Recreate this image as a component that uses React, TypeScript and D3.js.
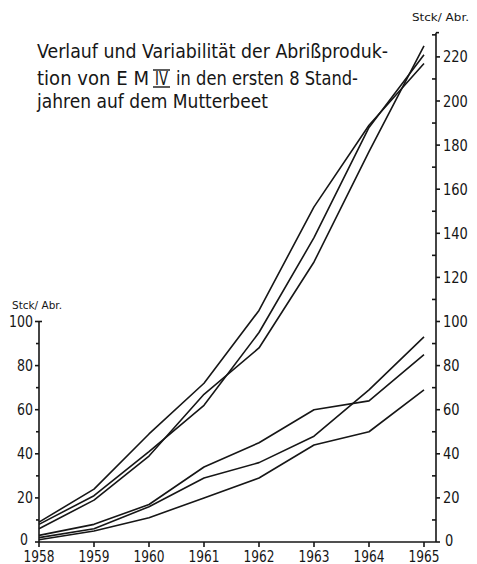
import React from 'react';
import * as d3 from 'd3';

// years on the x axis
const years = [1958, 1959, 1960, 1961, 1962, 1963, 1964, 1965];

// upper group (Stck/Abr.)
const upper1 = [9, 24, 49, 72, 105, 152, 189, 217];
const upper2 = [8, 21, 41, 62, 95, 138, 188, 221];
const upper3 = [6, 19, 39, 67, 88, 127, 177, 225];

// lower group
const lower1 = [3, 8, 17, 34, 45, 60, 64, 85];
const lower2 = [2, 6, 16, 29, 36, 48, 69, 93];
const lower3 = [1, 5, 11, 20, 29, 44, 50, 69];

const seriesList = [upper1, upper2, upper3, lower1, lower2, lower3];

const leftTicks = [0, 20, 40, 60, 80, 100];
const rightTicks = [0, 20, 40, 60, 80, 100, 120, 140, 160, 180, 200, 220];

const titleLine1 = 'Verlauf und Variabilität der Abrißproduk-';
const titleLine2a = 'tion von E M';
const titleNumeral = 'IV';
const titleLine2b = 'in den ersten 8 Stand-';
const titleLine3 = 'jahren auf dem Mutterbeet';
const unitLabel = 'Stck/ Abr.';

const W = 477;
const H = 564;
const INK = '#161616';
const FONT = "'DejaVu Sans', sans-serif";

export default function App() {
  const x = d3.scaleLinear().domain([1958, 1965]).range([39, 424]);
  const y = d3.scaleLinear().domain([0, 230]).range([542, 542 - 230 * 2.205]);
  const leftX = 39;
  const rightX = 436;

  const line = d3
    .line<number>()
    .x((_, i) => x(years[i]))
    .y((d) => y(d));

  const leftMinor = d3.range(10, 100, 20);
  const rightMinor = d3.range(10, 231, 20);

  // squeeze digits to the narrow look of the original
  const numLen = (v: number, w: number) => String(v).length * w;

  return (
    <svg
      width={W}
      height={H}
      style={{ position: 'absolute', left: 0, top: 0, background: '#fff' }}
    >
      {/* title */}
      <g fill={INK} fontFamily={FONT} fontSize={19}>
        <text x={37} y={58} textLength={351} lengthAdjust="spacingAndGlyphs">
          {titleLine1}
        </text>
        <text x={37} y={85} textLength={112} lengthAdjust="spacingAndGlyphs">
          {titleLine2a}
        </text>
        <text x={155} y={85} textLength={13} lengthAdjust="spacingAndGlyphs">
          {titleNumeral}
        </text>
        <text x={176} y={85} textLength={182} lengthAdjust="spacingAndGlyphs">
          {titleLine2b}
        </text>
        <text x={37} y={108} textLength={231} lengthAdjust="spacingAndGlyphs">
          {titleLine3}
        </text>
      </g>
      <g stroke={INK} strokeWidth={1.4}>
        <line x1={153} x2={170} y1={70} y2={70} />
        <line x1={153} x2={170} y1={87} y2={87} />
      </g>

      {/* unit labels */}
      <g fill={INK} fontFamily={FONT} fontSize={11}>
        <text x={412} y={21} textLength={57} lengthAdjust="spacingAndGlyphs">
          {unitLabel}
        </text>
        <text x={12} y={309} textLength={50} lengthAdjust="spacingAndGlyphs">
          {unitLabel}
        </text>
      </g>

      {/* x axis */}
      <g stroke={INK} strokeWidth={1.6}>
        <line x1={leftX} x2={rightX} y1={y(0)} y2={y(0)} />
        {years.map((yr) => (
          <line key={yr} x1={x(yr)} x2={x(yr)} y1={y(0)} y2={y(0) + 5} />
        ))}
      </g>
      <g fill={INK} fontFamily={FONT} fontSize={15} textAnchor="middle">
        {years.map((yr) => (
          <text key={yr} x={x(yr)} y={561.5} textLength={31} lengthAdjust="spacingAndGlyphs">
            {yr}
          </text>
        ))}
      </g>

      {/* left axis */}
      <g stroke={INK} strokeWidth={1.6}>
        <line x1={leftX} x2={leftX} y1={y(0)} y2={y(100)} />
        <line x1={leftX} x2={leftX + 3} y1={y(100)} y2={y(100)} />
        {leftTicks.map((t) => (
          <line key={t} x1={leftX - 4} x2={leftX} y1={y(t)} y2={y(t)} />
        ))}
        {leftMinor.map((t) => (
          <line key={t} x1={leftX - 3} x2={leftX} y1={y(t)} y2={y(t)} />
        ))}
      </g>
      <g fill={INK} fontFamily={FONT} fontSize={15} textAnchor="end">
        {leftTicks.map((t) => (
          <text
            key={t}
            x={t === 0 ? 28 : 33}
            y={y(t) + (t === 0 ? 3 : 5.5)}
            textLength={numLen(t, 8)}
            lengthAdjust="spacingAndGlyphs"
          >
            {t}
          </text>
        ))}
      </g>

      {/* right axis */}
      <g stroke={INK} strokeWidth={1.6}>
        <line x1={rightX} x2={rightX} y1={y(0)} y2={y(231)} />
        <line x1={rightX} x2={rightX + 3} y1={y(231)} y2={y(231)} />
        {rightTicks.map((t) => (
          <line key={t} x1={rightX} x2={rightX + 4} y1={y(t)} y2={y(t)} />
        ))}
        {rightMinor.map((t) => (
          <line key={t} x1={rightX - 4} x2={rightX} y1={y(t)} y2={y(t)} />
        ))}
      </g>
      <g fill={INK} fontFamily={FONT} fontSize={15} textAnchor="start">
        {rightTicks.map((t) => (
          <text
            key={t}
            x={t === 0 ? 445 : 443}
            y={y(t) + (t === 0 ? 4 : 5.5)}
            textLength={numLen(t, 8.3)}
            lengthAdjust="spacingAndGlyphs"
          >
            {t}
          </text>
        ))}
      </g>

      {/* series */}
      <g fill="none" stroke={INK} strokeWidth={1.6} strokeLinejoin="round">
        {seriesList.map((s, i) => (
          <path key={i} d={line(s) || ''} />
        ))}
      </g>
    </svg>
  );
}
